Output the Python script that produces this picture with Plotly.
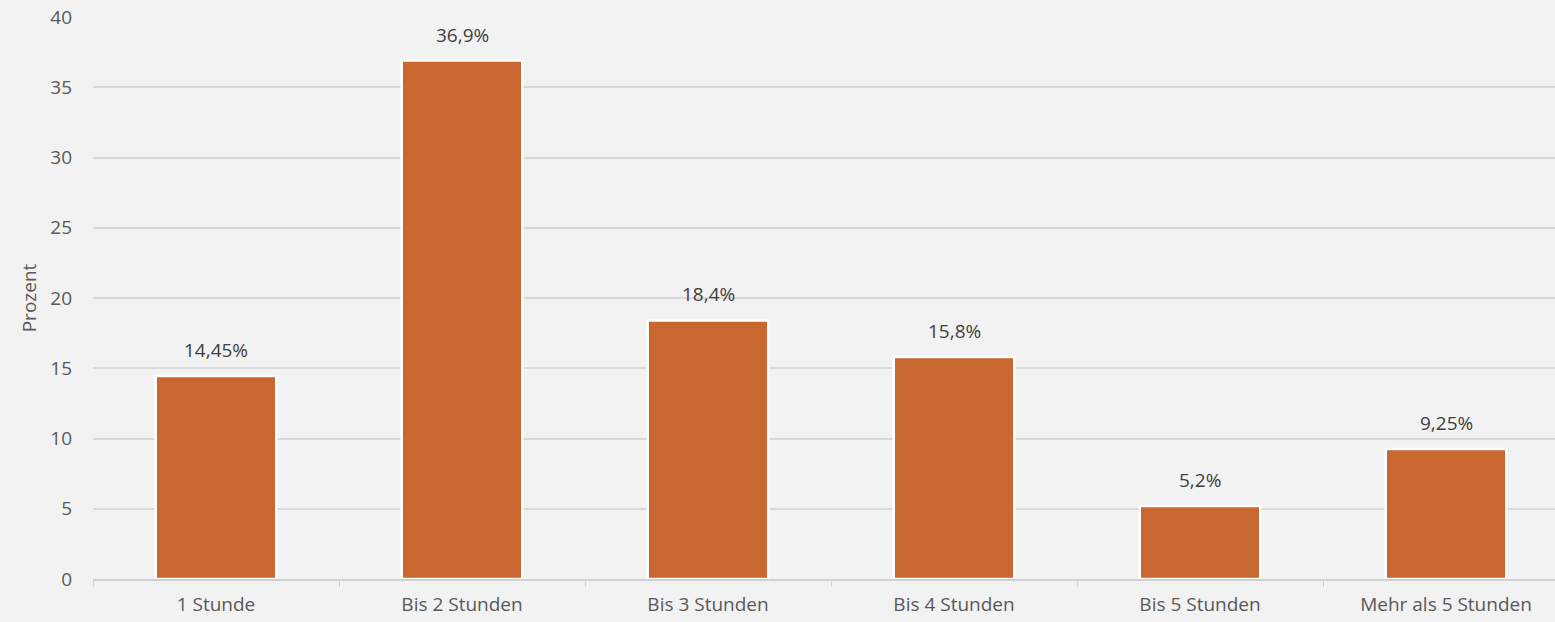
import plotly.graph_objects as go

categories = ["1 Stunde", "Bis 2 Stunden", "Bis 3 Stunden", "Bis 4 Stunden", "Bis 5 Stunden", "Mehr als 5 Stunden"]
values = [14.45, 36.9, 18.4, 15.8, 5.2, 9.25]
labels = ["14,45%", "36,9%", "18,4%", "15,8%", "5,2%", "9,25%"]
y_ticks = [0, 5, 10, 15, 20, 25, 30, 35, 40]

FONT = "'Open Sans', Lato, sans-serif"
SIZE = 19

fig = go.Figure(
    go.Bar(
        x=categories,
        y=values,
        marker=dict(color="#c8672f", line=dict(color="#ffffff", width=2.5)),
        width=0.49,
        hoverinfo="x+y",
    )
)

# value labels above each bar
for cat, val, lab in zip(categories, values, labels):
    fig.add_annotation(
        x=cat,
        y=val,
        text=lab,
        showarrow=False,
        yanchor="bottom",
        yshift=11,
        font=dict(family=FONT, size=SIZE, color="#404040"),
    )

fig.update_layout(
    width=1555,
    height=622,
    margin=dict(l=93, r=0, t=17, b=43),
    paper_bgcolor="#f2f2f2",
    plot_bgcolor="#f2f2f2",
    font=dict(family=FONT, size=SIZE, color="#595959"),
    showlegend=False,
)

fig.update_xaxes(
    range=[-0.5, 5.443],
    showgrid=False,
    showline=True,
    linecolor="#d0d0d0",
    linewidth=1.5,
    ticks="outside",
    tickson="boundaries",
    ticklen=6,
    tickcolor="#d0d0d0",
    ticklabelstandoff=7,
    tickfont=dict(family=FONT, size=SIZE, color="#595959"),
)

fig.update_yaxes(
    range=[0, 40],
    tickvals=y_ticks,
    showgrid=True,
    gridcolor="#d9d9d9",
    gridwidth=1.5,
    zeroline=False,
    ticks="",
    ticklabelstandoff=20,
    tickfont=dict(family=FONT, size=SIZE, color="#595959"),
    title=dict(text="Prozent", font=dict(family=FONT, size=SIZE, color="#595959"), standoff=8),
)

fig.write_html("out.html")
